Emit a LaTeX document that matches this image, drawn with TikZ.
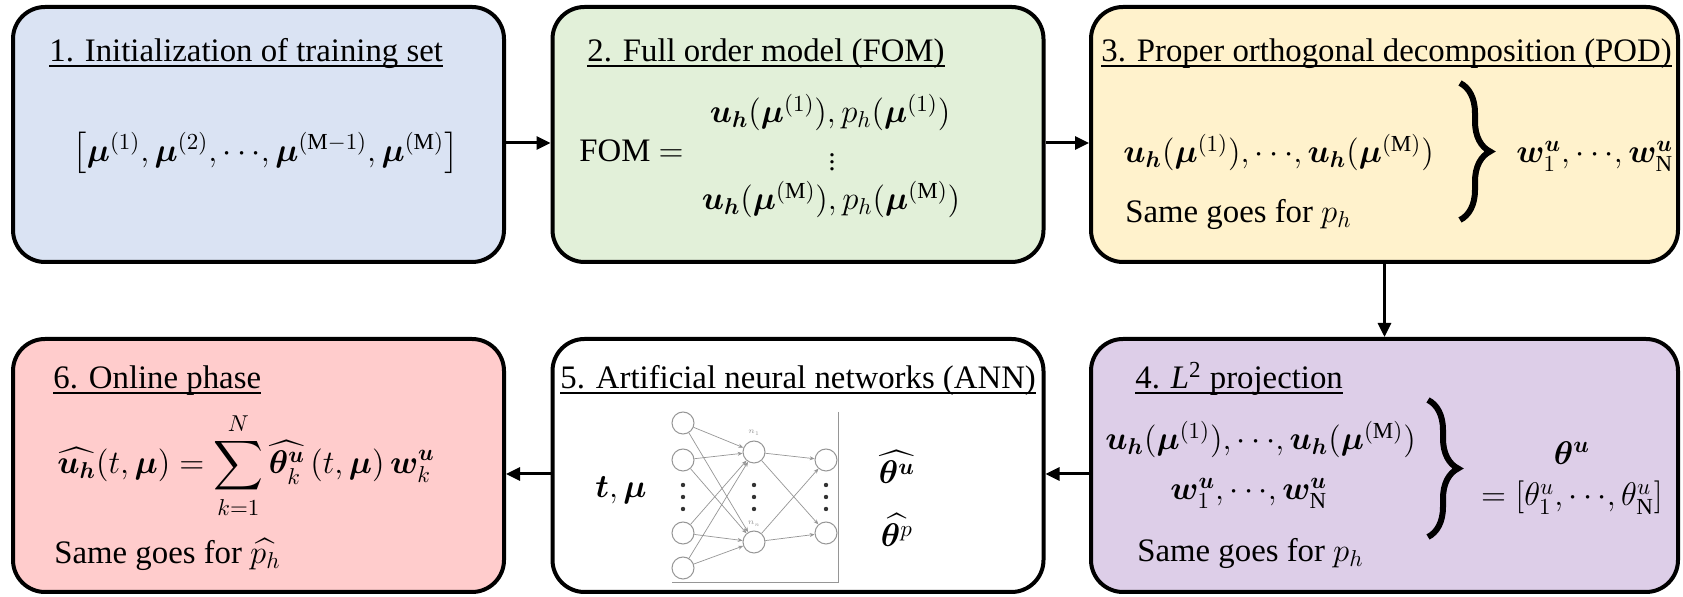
\RequirePackage{fix-cm}
\documentclass[tikz,border=0pt]{standalone}
\usepackage{amsmath}
\usepackage{bm}
\usepackage{fontspec}
\setmainfont{Liberation Serif}
\usetikzlibrary{arrows.meta,decorations.pathreplacing}

\definecolor{cblue}{RGB}{218,227,243}
\definecolor{cgreen}{RGB}{226,240,217}
\definecolor{cyellow}{RGB}{255,242,204}
\definecolor{cpurple}{RGB}{221,206,232}
\definecolor{cred}{RGB}{255,204,204}
\definecolor{nngray}{RGB}{150,150,150}

% compact ellipsis for lists
\newcommand\cdts{{\cdots}}

\tikzset{
  box/.style={draw=black, line width=2pt, rounded corners=16pt, inner sep=0pt,
              minimum width=245.5pt},
  rowA/.style={minimum height=127.5pt},
  rowB/.style={minimum height=126.5pt},
  txt/.style={font=\fontsize{16.4}{20}\selectfont, inner sep=0pt},
  arr/.style={line width=1.5pt, -{Triangle[length=7pt,width=6.5pt]}},
  curly/.style={decorate, decoration={brace, amplitude=15pt}, line width=3pt},
  neuron/.style={circle, draw=nngray, line width=0.5pt, minimum size=11pt, inner sep=0pt, fill=white},
  syn/.style={draw=nngray, line width=0.35pt, -{Stealth[length=2.5pt,width=2pt]}},
  nndot/.style={circle, fill=black!80, inner sep=0pt, minimum size=2.2pt},
}
\newcommand\steptitle[3]{%
  \node[txt, anchor=base west] (#1) at #2 {#3};
  \draw[line width=0.8pt] ([yshift=-2pt]#1.base west) -- ([yshift=-2pt]#1.base east);}

\begin{document}
\begin{tikzpicture}[x=0.5pt, y=-0.5pt]
\useasboundingbox (0,0) rectangle (1683,597);

% step boxes
\node[box, rowA, fill=cblue]   (b1) at (258.5,134.5) {};
\node[box, rowA, fill=cgreen]  (b2) at (798,134.5) {};
\node[box, rowA, fill=cyellow, minimum width=293.5pt] (b3) at (1384.5,134.5) {};
\node[box, rowB, fill=cpurple, minimum width=293.5pt] (b4) at (1384.5,465.5) {};
\node[box, rowB, fill=white]   (b5) at (798,465.5) {};
\node[box, rowB, fill=cred]    (b6) at (258.5,465.5) {};

% flow between the steps
\draw[arr] ([yshift=-4.25pt]b1.east) -- ([yshift=-4.25pt]b2.west);
\draw[arr] ([yshift=-4.25pt]b2.east) -- ([yshift=-4.25pt]b3.west);
\draw[arr] (b3.south) -- (b4.north);
\draw[arr] ([yshift=-4.25pt]b4.west) -- ([yshift=-4.25pt]b5.east);
\draw[arr] ([yshift=-4.25pt]b5.west) -- ([yshift=-4.25pt]b6.east);

% 1. training set
\steptitle{t1}{(49,62)}{1. Initialization of training set}
\node[txt, anchor=west] (f1) at (72,153)
  {$\big[\bm{\mu}^{(1)},\bm{\mu}^{(2)},\cdts,\bm{\mu}^{(\mathrm{M}-1)},\bm{\mu}^{(\mathrm{M})}\big]$};

% 2. full order model
\steptitle{t2}{(587,62)}{2. Full order model (FOM)}
\node[txt, anchor=base west] (fom) at (579,162) {FOM $=$};
\node[txt, anchor=base] (f2a) at (830,123)
  {$\bm{u_h}(\bm{\mu}^{(1)}), p_h(\bm{\mu}^{(1)})$};
\node[txt, scale=0.85] (f2b) at (832,157) {$\vdots$};
\node[txt, anchor=base] (f2c) at (831,210)
  {$\bm{u_h}(\bm{\mu}^{(\mathrm{M})}), p_h(\bm{\mu}^{(\mathrm{M})})$};

% 3. POD
\steptitle{t3}{(1101,62)}{3. Proper orthogonal decomposition (POD)}
\node[txt, anchor=base west] (f3a) at (1123,163)
  {$\bm{u_h}(\bm{\mu}^{(1)}),\cdts,\bm{u_h}(\bm{\mu}^{(\mathrm{M})})$};
\node[txt, anchor=base west] (f3b) at (1125,223) {Same goes for $p_h$};
\coordinate (br3a) at (1460,83);
\coordinate (br3b) at (1460,220);
\draw[curly] (br3a) -- (br3b);
\node[txt, anchor=base west] (f3c) at (1516,163)
  {$\bm{w}^{\bm{u}}_{1},\cdts,\bm{w}^{\bm{u}}_{\mathrm{N}}$};

% 4. L2 projection
\steptitle{t4}{(1135,389)}{4. \textit{L}\textsuperscript{2} projection}
\node[txt, anchor=base west] (f4a) at (1105,450)
  {$\bm{u_h}(\bm{\mu}^{(1)}),\cdts,\bm{u_h}(\bm{\mu}^{(\mathrm{M})})$};
\node[txt, anchor=base west] (f4b) at (1170,500)
  {$\bm{w}^{\bm{u}}_{1},\cdts,\bm{w}^{\bm{u}}_{\mathrm{N}}$};
\node[txt, anchor=base west] (f4c) at (1137,562) {Same goes for $p_h$};
\coordinate (br4a) at (1428,400);
\coordinate (br4b) at (1428,537);
\draw[curly] (br4a) -- (br4b);
\node[txt] (f4d) at (1572,453) {$\bm{\theta}^{\bm{u}}$};
\node[txt] (f4e) at (1572,498)
  {$=[\theta^{u}_{1},\cdts,\theta^{u}_{\mathrm{N}}]$};

% 5. ANN
\steptitle{t5}{(560,389)}{5. Artificial neural networks (ANN)}
\node[txt] (f5a) at (621,490) {$\bm{t},\bm{\mu}$};
\node[txt] (f5b) at (897,467) {$\widehat{\bm{\theta}^{\bm{u}}}$};
\node[txt] (f5c) at (897,530) {$\widehat{\bm{\theta}^{p}}$};
% network sketch
\draw[nngray, line width=0.4pt] (838,412) -- (838,582) -- (672,582);
\foreach \n/\y in {1/423, 2/460, 3/533, 4/568} \node[neuron] (in\n) at (683,\y) {};
\node[neuron] (h1) at (754,452) {};
\node[neuron] (h2) at (754,542) {};
\node[neuron] (o1) at (826,460) {};
\node[neuron] (o2) at (826,533) {};
\foreach \i in {1,...,4} \foreach \j in {1,2} \draw[syn] (in\i) -- (h\j);
\foreach \i in {1,2} \foreach \j in {1,2} \draw[syn] (h\i) -- (o\j);
\foreach \x in {683,754,826} \foreach \y in {485,497,509} \node[nndot] at (\x,\y) {};
\node[font=\fontsize{4}{4}\selectfont, text=nngray, inner sep=0pt] (lh1) at (754,433) {$n_1$};
\node[font=\fontsize{4}{4}\selectfont, text=nngray, inner sep=0pt] (lh2) at (754,524) {$n_n$};

% 6. online phase
\steptitle{t6}{(53,389)}{6. Online phase}
\node[txt, anchor=base west] (f6a) at (57,474)
  {$\widehat{\bm{u_h}}(t,\bm{\mu}) = \displaystyle\sum_{k=1}^{N}\widehat{\bm{\theta}^{\bm{u}}_{k}}\,(t,\bm{\mu})\,\bm{w}^{\bm{u}}_{k}$};
\node[txt, anchor=base west] (f6b) at (54,564) {Same goes for $\widehat{p_h}$};
\end{tikzpicture}
\end{document}
